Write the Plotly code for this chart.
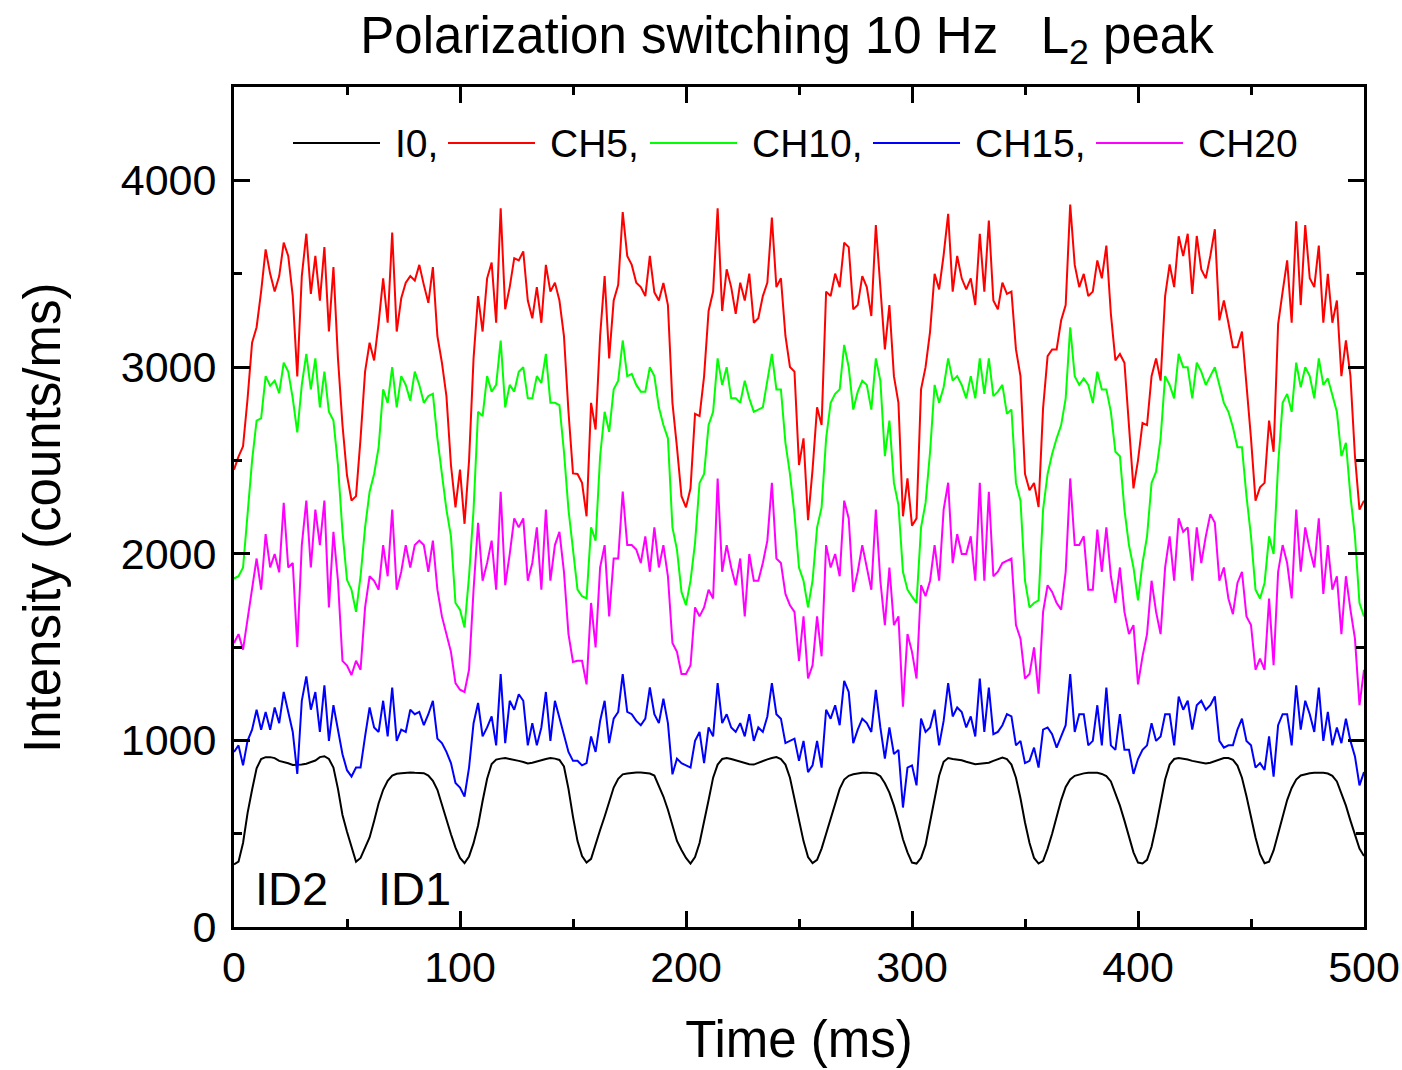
import plotly.graph_objects as go

# ---------------- data ----------------
time_ms = list(range(0, 501, 2))

i0 = [335, 350, 450, 610, 735, 850, 900, 910, 910, 905, 890, 885, 877, 868, 868, 870, 875, 882, 892, 910, 915, 900, 854, 740, 600, 510,
      430, 350, 370, 425, 480, 568, 663, 735, 783, 811, 821, 823, 826, 828, 826, 826, 824, 811, 783, 735, 651, 568, 497, 425, 370,
      342, 378, 449, 544, 675, 794, 873, 897, 902, 905, 900, 893, 890, 884, 876, 880, 885, 893, 900, 905, 902, 895, 860, 740, 590,
      460, 380, 345, 365, 449, 520, 592, 668, 747, 794, 818, 822, 826, 828, 828, 826, 822, 811, 759, 699, 628, 544, 461, 413, 370,
      340, 375, 450, 560, 680, 800, 870, 900, 905, 900, 893, 885, 875, 872, 870, 880, 888, 898, 905, 910, 900, 870, 800, 690, 570,
      460, 375, 342, 360, 420, 500, 580, 670, 740, 790, 810, 818, 823, 826, 827, 826, 822, 808, 770, 720, 650, 565, 470, 400, 345,
      340, 370, 440, 560, 690, 810, 885, 905, 900, 898, 893, 885, 878, 872, 875, 877, 880, 890, 900, 908, 900, 870, 800, 690, 560,
      450, 370, 340, 355, 420, 500, 590, 680, 750, 790, 810, 818, 823, 826, 828, 826, 820, 808, 780, 720, 650, 570, 480, 400, 345,
      340, 360, 430, 540, 670, 790, 870, 900, 905, 903, 897, 890, 884, 878, 876, 880, 888, 898, 905, 905, 895, 865, 800, 700, 590,
      480, 390, 342, 350, 410, 500, 590, 680, 745, 790, 812, 820, 824, 826, 828, 826, 822, 810, 780, 720, 650, 570, 490, 420, 380]

ch5 = [2450, 2520, 2575, 2830, 3130, 3213, 3404, 3630, 3499, 3404, 3487, 3666, 3595, 3380, 2950, 3487, 3714, 3392, 3595, 3356, 3642, 3190, 3535, 3046, 2689, 2420,
       2284, 2308, 2618, 2975, 3130, 3035, 3237, 3475, 3237, 3720, 3190, 3368, 3452, 3487, 3463, 3547, 3440, 3344, 3535, 3166, 3023, 2844, 2475, 2248, 2450,
       2160, 2498, 3046, 3380, 3190, 3475, 3559, 3237, 3850, 3309, 3428, 3583, 3571, 3619, 3356, 3261, 3428, 3237, 3547, 3404, 3452, 3356, 3166, 2760, 2430,
       2427, 2379, 2200, 2808, 2665, 3166, 3487, 3046, 3356, 3440, 3830, 3595, 3547, 3452, 3428, 3380, 3595, 3400, 3356, 3450, 3332, 2808, 2570, 2308, 2248,
       2350, 2749, 2737, 2950, 3300, 3404, 3850, 3300, 3523, 3428, 3285, 3452, 3356, 3500, 3237, 3261, 3380, 3452, 3800, 3428, 3475, 3166, 3000, 2975, 2475,
       2618, 2180, 2450, 2784, 2689, 3404, 3380, 3500, 3428, 3666, 3642, 3309, 3332, 3487, 3428, 3273, 3761, 3404, 3094, 3332, 2951, 2808, 2200, 2403, 2150,
       2189, 2880, 2999, 3190, 3499, 3416, 3600, 3820, 3404, 3595, 3475, 3416, 3475, 3332, 3714, 3404, 3785, 3356, 3309, 3452, 3392, 3404, 3094, 2951, 2427,
       2340, 2379, 2250, 2780, 3058, 3094, 3094, 3250, 3332, 3870, 3547, 3428, 3499, 3380, 3404, 3571, 3475, 3650, 3285, 3035, 3070, 3023, 2665, 2350, 2500,
       2700, 2689, 2951, 3046, 2927, 3380, 3550, 3428, 3700, 3595, 3714, 3392, 3702, 3523, 3475, 3595, 3738, 3250, 3356, 3237, 3106, 3106, 3190, 2904, 2618,
       2284, 2355, 2379, 2713, 2546, 3230, 3404, 3571, 3237, 3780, 3332, 3760, 3475, 3428, 3650, 3237, 3499, 3237, 3356, 2951, 3142, 2951, 2522, 2236, 2284]

ch10 = [1867, 1879, 1926, 2200, 2498, 2713, 2725, 2951, 2900, 2927, 2860, 3023, 2975, 2832, 2650, 2904, 3070, 2880, 3046, 2784, 2975, 2760, 2713, 2475, 2117, 1860,
        1807, 1688, 1879, 2141, 2332, 2427, 2570, 2880, 2808, 2999, 2784, 2951, 2904, 2820, 2975, 2904, 2808, 2844, 2856, 2618, 2427, 2236, 2093, 1736, 1700,
        1605, 1879, 2236, 2760, 2737, 2951, 2868, 2904, 3142, 2784, 2904, 2868, 2975, 2999, 2832, 2832, 2951, 2915, 3070, 2808, 2808, 2796, 2546, 2236, 2020,
        1807, 1772, 1760, 2141, 2070, 2522, 2760, 2653, 2880, 2927, 3142, 2951, 2963, 2904, 2868, 2868, 2999, 2951, 2784, 2689, 2618, 2141, 2022, 1795, 1724,
        1855, 2058, 2379, 2427, 2689, 2760, 3046, 2904, 2999, 2832, 2832, 2808, 2927, 2832, 2760, 2772, 2784, 2927, 3070, 2880, 2880, 2594, 2427, 2212, 1926,
        1855, 1712, 1855, 2141, 2248, 2618, 2808, 2856, 2880, 3118, 2999, 2772, 2868, 2927, 2904, 2772, 3046, 2927, 2522, 2713, 2379, 2260, 1903, 1807, 1770,
        1736, 2141, 2272, 2546, 2904, 2808, 2892, 3046, 2927, 2951, 2904, 2832, 2951, 2832, 3046, 2856, 3046, 2844, 2868, 2904, 2749, 2772, 2379, 2284, 1855,
        1712, 1736, 1750, 2236, 2427, 2534, 2618, 2689, 2832, 3213, 2951, 2904, 2939, 2904, 2808, 2975, 2880, 2880, 2760, 2546, 2522, 2236, 2046, 1926, 1750,
        1950, 2093, 2379, 2439, 2618, 2951, 2904, 2832, 3070, 2999, 2999, 2832, 3023, 2975, 2904, 2951, 2999, 2904, 2808, 2760, 2677, 2570, 2570, 2308, 2093,
        1807, 1760, 1843, 2093, 1998, 2475, 2808, 2856, 2760, 3023, 2892, 2999, 2951, 2832, 3046, 2904, 2939, 2856, 2760, 2522, 2594, 2308, 2093, 1736, 1664]

ch15 = [938, 973, 866, 997, 1057, 1164, 1057, 1152, 1057, 1176, 1092, 1259, 1152, 1045, 820, 1212, 1343, 1164, 1259, 1045, 1295, 997, 1188, 1045, 926, 840,
        806, 854, 854, 1021, 1176, 1069, 1045, 1212, 1021, 1283, 997, 1057, 1045, 1164, 1140, 1152, 1081, 1140, 1212, 1009, 985, 938, 878, 771, 747,
        699, 854, 1092, 1200, 1021, 1069, 1128, 973, 1355, 985, 1212, 1164, 1247, 1212, 973, 1092, 973, 1069, 1259, 997, 1212, 1116, 1021, 938, 890,
        890, 866, 878, 1021, 938, 1104, 1212, 985, 1116, 1152, 1355, 1152, 1140, 1104, 1081, 1116, 1283, 1140, 1092, 1223, 1092, 818, 902, 878, 866,
        854, 997, 1045, 878, 1069, 1021, 1307, 1092, 1140, 1069, 1045, 1092, 1021, 1140, 997, 1069, 1045, 1128, 1307, 1140, 1116, 985, 997, 1009, 890,
        997, 830, 866, 997, 854, 1164, 1116, 1188, 1081, 1319, 1259, 985, 1057, 1116, 1092, 1045, 1271, 1069, 902, 1069, 926, 949, 640, 854, 866,
        759, 1116, 1045, 1069, 1164, 973, 1104, 1307, 1128, 1176, 1152, 1069, 1128, 1021, 1331, 1045, 1283, 1033, 1045, 1081, 1140, 1128, 973, 997, 878,
        890, 961, 854, 1057, 1069, 1033, 961, 1021, 1081, 1355, 1045, 1140, 1140, 973, 997, 1188, 973, 1283, 973, 949, 1140, 949, 949, 820, 900,
        949, 973, 1092, 997, 1021, 1140, 1140, 973, 1235, 1164, 1212, 1057, 1188, 1212, 1164, 1188, 1235, 997, 961, 973, 973, 1057, 1116, 997, 973,
        854, 878, 842, 1021, 806, 1081, 1140, 1140, 973, 1295, 1057, 1212, 1140, 1045, 1283, 997, 1152, 973, 1069, 985, 1116, 997, 914, 759, 830]

ch20 = [1521, 1569, 1486, 1652, 1831, 1974, 1807, 2105, 1926, 1998, 1900, 2272, 1926, 1950, 1500, 2046, 2284, 1926, 2236, 2046, 2284, 1712, 2117, 1855, 1426, 1400,
        1350, 1426, 1378, 1712, 1879, 1855, 1807, 2046, 1879, 2236, 1807, 1903, 2046, 1926, 2046, 2070, 2046, 1903, 2070, 1807, 1664, 1569, 1474, 1307, 1271,
        1259, 1378, 1807, 2165, 1855, 1950, 2070, 1807, 2332, 1831, 1998, 2189, 2141, 2189, 1855, 1950, 2141, 1807, 2236, 1855, 2046, 2117, 1903, 1569, 1420,
        1426, 1426, 1300, 1736, 1498, 1926, 2046, 1664, 1974, 1974, 2332, 2046, 2046, 2022, 1950, 2093, 1903, 2141, 1926, 2046, 1879, 1521, 1474, 1355, 1355,
        1402, 1712, 1664, 1712, 1807, 1760, 2403, 1903, 2046, 1926, 1831, 1974, 1664, 1998, 1855, 1855, 1950, 2070, 2379, 1974, 1950, 1784, 1724, 1688, 1426,
        1664, 1331, 1402, 1664, 1450, 2046, 1926, 1998, 1879, 2284, 2189, 1795, 1903, 2046, 1926, 1807, 2236, 1855, 1617, 1926, 1617, 1664, 1180, 1569, 1474,
        1331, 1831, 1772, 1855, 2046, 1855, 2236, 2380, 1950, 2105, 1998, 1998, 2093, 1855, 2379, 1855, 2332, 1879, 1903, 1950, 1962, 1974, 1617, 1545, 1331,
        1355, 1498, 1250, 1688, 1831, 1795, 1736, 1700, 1903, 2403, 2046, 2046, 2093, 1807, 1807, 2129, 1903, 2141, 1879, 1736, 1926, 1688, 1569, 1617, 1300,
        1450, 1569, 1855, 1688, 1569, 1926, 2093, 1855, 2189, 2117, 2141, 1855, 2141, 1950, 2093, 2212, 2165, 1855, 1926, 1760, 1676, 1843, 1903, 1664, 1617,
        1378, 1438, 1378, 1760, 1402, 1903, 2046, 1950, 1760, 2236, 1903, 2141, 2022, 1926, 2189, 1784, 2046, 1807, 1879, 1569, 1879, 1700, 1545, 1188, 1378]

series_names = ["I0,", "CH5,", "CH10,", "CH15,", "CH20"]
series_values = [i0, ch5, ch10, ch15, ch20]
series_colors = ["#000000", "#FF0000", "#00FF00", "#0000FF", "#FF00FF"]

x_ticks = [0, 100, 200, 300, 400, 500]
y_ticks = [0, 1000, 2000, 3000, 4000]
region_labels = ["ID2", "ID1"]

# ---------------- figure ----------------
FONT = "Liberation Sans, Arial, Helvetica, sans-serif"
FIG_W, FIG_H = 1402, 1070
PX0, PX1, PY0, PY1 = 234, 1364, 87, 927  # pixels of the plot box

fig = go.Figure()
for name, vals, col in zip(series_names, series_values, series_colors):
    fig.add_trace(go.Scatter(x=time_ms, y=vals, mode="lines", name=name,
                             line=dict(color=col, width=2), showlegend=False))

axis_common = dict(
    showgrid=False, zeroline=False, showline=True, linecolor="black", linewidth=3,
    mirror="ticks", ticks="inside", ticklen=16, tickwidth=2.5, tickcolor="black",
    tickfont=dict(family=FONT, size=43, color="black"), automargin=False,
)
fig.update_xaxes(range=[0, 500], tickvals=x_ticks,
                 minor=dict(ticks="inside", ticklen=8, tickwidth=2.5, dtick=50, tickcolor="black"),
                 title=dict(text="Time (ms)", font=dict(family=FONT, size=51, color="black"), standoff=32),
                 **axis_common)
fig.update_yaxes(range=[0, 4500], tickvals=y_ticks,
                 minor=dict(ticks="inside", ticklen=8, tickwidth=2.5, dtick=500, tickcolor="black"),
                 ticklabelstandoff=6,
                 **axis_common)

def px2paper_x(px):
    return (px - PX0) / (PX1 - PX0)
def py2paper_y(py):
    return (PY1 - py) / (PY1 - PY0)

# manual legend (single row, long line samples)
legend_line_x = [(293, 380), (448, 535), (650, 737), (873, 960), (1096, 1183)]
legend_text_x = [393, 548, 750, 973, 1196]
ly = py2paper_y(143)
shapes = []
annotations = []
for (x0, x1), tx, name, col in zip(legend_line_x, legend_text_x, series_names, series_colors):
    shapes.append(dict(type="line", xref="paper", yref="paper", x0=px2paper_x(x0), x1=px2paper_x(x1),
                       y0=ly, y1=ly, line=dict(color=col, width=2)))
    annotations.append(dict(xref="paper", yref="paper", x=px2paper_x(tx), y=ly, text=name,
                            showarrow=False, xanchor="left", yanchor="middle",
                            font=dict(family=FONT, size=39, color="black")))
# region labels
for lab, lx in zip(region_labels, [253, 376]):
    annotations.append(dict(xref="paper", yref="paper", x=px2paper_x(lx), y=py2paper_y(888), text=lab,
                            showarrow=False, xanchor="left", yanchor="middle",
                            font=dict(family=FONT, size=47, color="black")))
# y axis title (placed as in the reference, slightly below the plot centre)
annotations.append(dict(xref="paper", yref="paper", x=px2paper_x(42), y=py2paper_y(518),
                        text="Intensity (counts/ms)", textangle=-90, showarrow=False,
                        xanchor="center", yanchor="middle",
                        font=dict(family=FONT, size=51, color="black")))

fig.update_layout(
    width=FIG_W, height=FIG_H,
    margin=dict(l=PX0, r=FIG_W - PX1, t=PY0, b=FIG_H - PY1),
    paper_bgcolor="white", plot_bgcolor="white",
    title=dict(text="Polarization switching 10 Hz\u00a0\u00a0\u00a0L<sub>2</sub> peak",
               x=787 / FIG_W, xanchor="center", y=1 - 35 / FIG_H, yanchor="middle",
               font=dict(family=FONT, size=51, color="black")),
    shapes=shapes, annotations=annotations,
)

fig.write_html("out.html",
               config={"displayModeBar": False},
               post_script="document.body.style.margin='0px';document.documentElement.style.overflow='hidden';")
